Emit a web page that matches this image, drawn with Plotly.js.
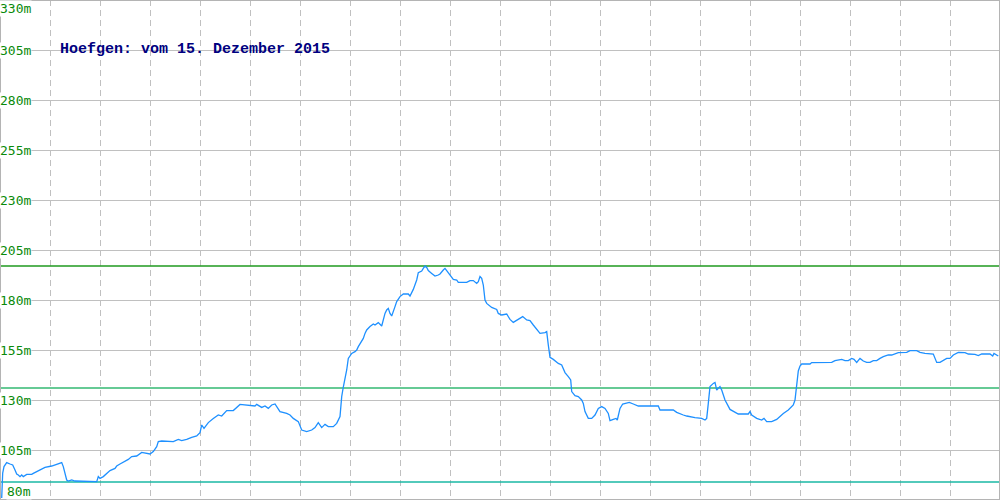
<!DOCTYPE html>
<html>
<head>
<meta charset="utf-8">
<script src="https://cdn.plot.ly/plotly-3.0.1.min.js"></script>
<style>html,body{margin:0;padding:0;background:#fff;}#chart{width:1000px;height:500px;}</style>
</head>
<body>
<div id="chart"></div>
<script>
// Sample positions along the day and elevation in metres
const samplePos = [1.7,2.7,4,6.7,10,12.7,15,16.7,18.3,20,21.7,23.3,26.7,31.7,33.3,36.7,40,45,51.7,58.3,61.7,63.3,65,66.7,68.3,71.7,75,96.7,98.3,100,103.3,106.7,110,115,116.7,120,125,128.3,131.7,136.7,141.7,146.7,150,153.3,156.7,158.3,161.7,173.3,178.3,181.7,186.7,191.7,196.7,200,201.7,204,208.3,213.3,218.3,221.7,226.7,233.3,240,255,256.7,261.7,265,268.3,271.7,275,276.7,280,286.7,290,293.3,298.3,301.7,306.7,311.7,315,318.3,321.7,325,328.3,333.3,336.7,340,341,341.7,343.3,345,346.7,348.3,350,351.7,355,356.7,358.3,361.7,363.3,365,366.7,370,373.3,375,378.3,381.7,383.3,385,386.7,388.3,390,391.7,395,396.7,400,403.3,408.3,410,413.3,415,416.7,418.3,421.7,423.3,425,426.7,428.3,431.7,435,438.3,440,443.3,445,446.7,450,453.3,456.7,458.3,466.7,470,473.3,476.7,478.3,480,481.7,483.3,485,486.7,491.7,496.7,498.3,501.7,506.7,510,513.3,516.7,520,522.7,526.7,530,533.3,536.7,540,545,546.7,548.3,550,553.3,558.3,561.7,565,568.3,570.7,571.7,575,578.3,581.7,583.3,585,588.3,591.7,595,598.3,601.7,605,608.3,610,613.3,616,617.3,620,622.7,626.7,629.3,633.3,638.3,658.3,660,673.3,676.7,683.3,686.7,695,701.7,705,706.7,708.3,710,713.3,715,716.7,720,721.7,725,730,733.3,738.3,748.3,750,751.7,756.7,761.7,764,766.7,771.7,776.7,783.3,788.3,793.3,795,796.7,798.3,800,801.7,810,811.7,831.7,835,841.7,845,848.3,851.7,854,856.7,860,863.3,866.7,870,873.3,876.7,880,883.3,888.3,891.7,898.3,906.7,910,916.7,920,925,933.3,936.7,940,943.3,946.7,950,953.3,958.3,965,968.3,975,978.3,981.7,990,992.7,994,996.7,998.3];
const elevation = [81,93.5,96.7,98.7,98,97.5,95,93,92.5,91.7,92.5,91.7,92.8,92.8,93.3,94.2,95.3,96.3,97,98.3,98.7,96.7,93.3,90,89.5,90,89.5,89.2,91.7,90.8,91.7,93.3,94.7,95.8,97,98,99.2,100.3,101.7,102,103.8,103.3,103,104.2,106.7,109.2,109.5,109.2,110.3,109.7,110.3,111.3,112,113.7,117.5,115.8,118.7,120.8,122.5,122,124.7,124.7,127.8,127,127.8,126.3,127,125.8,127.5,128,126.7,124.2,123.3,122.5,120.8,119.2,115,114.2,115,116.2,118.7,116.2,117.8,116.7,116.7,118.3,121.7,128.5,131.7,136.5,140,145,150.8,152,153.3,154.2,155,156.7,160,160.8,163.3,165,166.7,168,167.5,168.7,167,170,173.3,175,175.8,173.3,172,176.7,179.2,181.7,183,183,182,185.3,187.5,190,193.7,194.5,195.8,197,196.3,194.7,193.3,192,192.5,193,195,195.8,194.7,192.5,190.3,190,188.8,188.8,189.7,189.7,188.3,189.2,191.7,190.8,187.5,180,178.3,176.3,175.3,173.3,172.5,173,170.3,168.8,169.7,170.8,171.7,170,169.7,167.5,165.3,163.3,163.7,164.2,157.5,151.3,150.3,148.3,147.5,143.7,141.7,140,134.2,132.2,131.7,130,128.3,124.2,120.8,120.8,122.5,125.8,126.7,125.8,123.3,119.7,120.3,120.8,120,125.8,128,128.3,128.8,128,127,127,125,125,123.8,122.5,122,121.2,120.8,120,120.8,128.3,136.7,138.3,138.8,135,136.7,135,130,125.3,124.5,123,123,124.2,122.5,120.8,120,120.8,119.2,119.2,120.3,123.3,125,127.5,130,136.5,144.5,147,148,148,148.7,148.8,149.7,150.3,149.7,149.7,150.8,150.3,148.8,150.8,149.5,148.8,148.8,149.7,149.7,150.8,151.7,152.5,152.5,153.7,153.8,154.7,154.7,153.8,153.3,153,148.8,148.8,150,150.8,150.8,152.5,153.8,153.7,153,152.8,152.2,153,153,152,153.3,152.5,152];

// Reference levels (max, middle, min) and their colours
const levelValues = [197, 136, 89];
const levelColors = ['#1f9a1f', '#33b872', '#1ab8a4'];

// Y tick labels
const yTickVals = [330, 305, 280, 255, 230, 205, 180, 155, 130, 105, 80];
const yTickText = yTickVals.map(v => v + 'm');

const titleText = 'Hoefgen: vom 15. Dezember 2015';

const traces = levelValues.map((v, i) => ({
  x: [0, 1000], y: [v, v], type: 'scatter', mode: 'lines',
  line: {color: levelColors[i], width: 1.3}, hoverinfo: 'skip', showlegend: false
}));
traces.push({
  x: samplePos, y: elevation, type: 'scatter', mode: 'lines',
  line: {color: '#1e90ff', width: 1.3}, showlegend: false
});

const annotations = yTickVals.map((v, i) => ({
  xref: 'paper', yref: 'y', x: 0.032, y: v,
  xanchor: 'right',
  yanchor: i === 0 ? 'top' : (i === yTickVals.length - 1 ? 'bottom' : 'middle'),
  text: yTickText[i], showarrow: false, bgcolor: '#ffffff', borderpad: 0,
  font: {family: 'DejaVu Sans Mono, monospace', size: 13, color: '#0a8a0a'}
}));

const layout = {
  width: 1000, height: 500,
  margin: {l: 0, r: 0, t: 0, b: 0, pad: 0},
  paper_bgcolor: '#ffffff', plot_bgcolor: '#ffffff',
  title: {
    text: titleText, xref: 'paper', x: 0.06, xanchor: 'left',
    yref: 'container', y: 0.904, yanchor: 'middle',
    font: {family: 'Liberation Mono, monospace', size: 15, color: '#000080', weight: 'bold'}
  },
  xaxis: {
    range: [0, 1000], showticklabels: false, ticks: '', zeroline: false,
    showgrid: true, dtick: 50, tick0: 0, gridcolor: '#c0c0c0', gridwidth: 1, griddash: '6px,4px',
    showline: false, fixedrange: true
  },
  yaxis: {
    range: [80, 330], showticklabels: false, ticks: '', zeroline: false,
    showgrid: true, dtick: 25, tick0: 80, gridcolor: '#c0c0c0', gridwidth: 1,
    showline: false, fixedrange: true
  },
  shapes: [{
    type: 'rect', xref: 'paper', yref: 'paper', x0: 0, x1: 1, y0: 0, y1: 1,
    line: {color: '#b4b4b4', width: 2}, fillcolor: 'rgba(0,0,0,0)', layer: 'above'
  }],
  annotations: annotations,
  showlegend: false
};

Plotly.newPlot('chart', traces, layout, {displayModeBar: false, staticPlot: true});
</script>
</body>
</html>
